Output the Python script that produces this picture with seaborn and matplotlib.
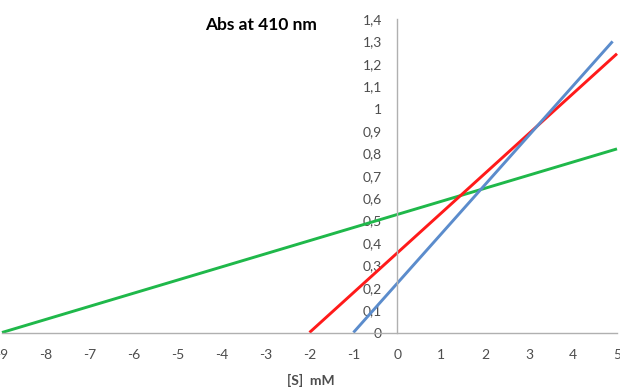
import matplotlib
matplotlib.use("Agg")
import matplotlib.pyplot as plt
from matplotlib.ticker import FuncFormatter, FixedLocator
import seaborn as sns
import pandas as pd

# Straight-line fits, each given by its two end points ([S] in mM, absorbance)
green_s = [-9.0, 5.0]
green_abs = [0.0, 0.82]
red_s = [-2.0, 5.0]
red_abs = [0.0, 1.245]
blue_s = [-1.0, 4.9]
blue_abs = [0.0, 1.30]

x_ticks = list(range(-9, 6))
y_ticks = [round(0.1 * i, 1) for i in range(15)]

df = pd.DataFrame({
    "S": green_s + red_s + blue_s,
    "Abs": green_abs + red_abs + blue_abs,
    "series": ["green"] * 2 + ["red"] * 2 + ["blue"] * 2,
})

sns.set_theme(style="white")
plt.rcParams["font.family"] = ["Lato", "DejaVu Sans"]

fig = plt.figure(figsize=(6.2, 3.92), dpi=100)
ax = fig.add_axes([2 / 620, (392 - 332.5) / 392, 615 / 620, (332.5 - 19) / 392])

palette = {"green": "#1fb84a", "red": "#ff1a1a", "blue": "#5b8ccc"}
sns.lineplot(data=df, x="S", y="Abs", hue="series", palette=palette,
             legend=False, linewidth=2.1, ax=ax, estimator=None, sort=False)
for line in ax.lines:
    line.set_clip_on(False)
    line.set_solid_capstyle("butt")

ax.set_xlim(-9, 5)
ax.set_ylim(0, 1.4)

ax.spines["top"].set_visible(False)
ax.spines["right"].set_visible(False)
ax.spines["left"].set_position(("data", 0))
ax.spines["bottom"].set_position(("data", 0))
for side in ("left", "bottom"):
    ax.spines[side].set_color("#b0b0b0")
    ax.spines[side].set_linewidth(1.0)

ax.xaxis.set_major_locator(FixedLocator(x_ticks))
ax.yaxis.set_major_locator(FixedLocator(y_ticks))


def comma_fmt(v, pos):
    s = ("%.1f" % v).rstrip("0").rstrip(".")
    return s.replace(".", ",")


ax.yaxis.set_major_formatter(FuncFormatter(comma_fmt))
ax.xaxis.set_major_formatter(FuncFormatter(lambda v, p: "%d" % v))

ax.tick_params(axis="both", which="major", direction="out", colors="#b0b0b0",
               labelcolor="#4d4d4d", labelsize=10, width=1.0)
ax.tick_params(axis="x", length=4, pad=8)
ax.tick_params(axis="y", length=4, pad=7)
ax.set_xlabel("")
ax.set_ylabel("")

fig.text(261 / 620, 1 - 25 / 392, "Abs at 410 nm", ha="center", va="center",
         fontsize=12.5, fontweight="bold", color="#000000")
fig.text(311 / 620, 1 - 380 / 392, "[S]  mM", ha="center", va="center",
         fontsize=10, fontweight="bold", color="#4d4d4d")

fig.savefig("out.png", dpi=100, facecolor="white")
